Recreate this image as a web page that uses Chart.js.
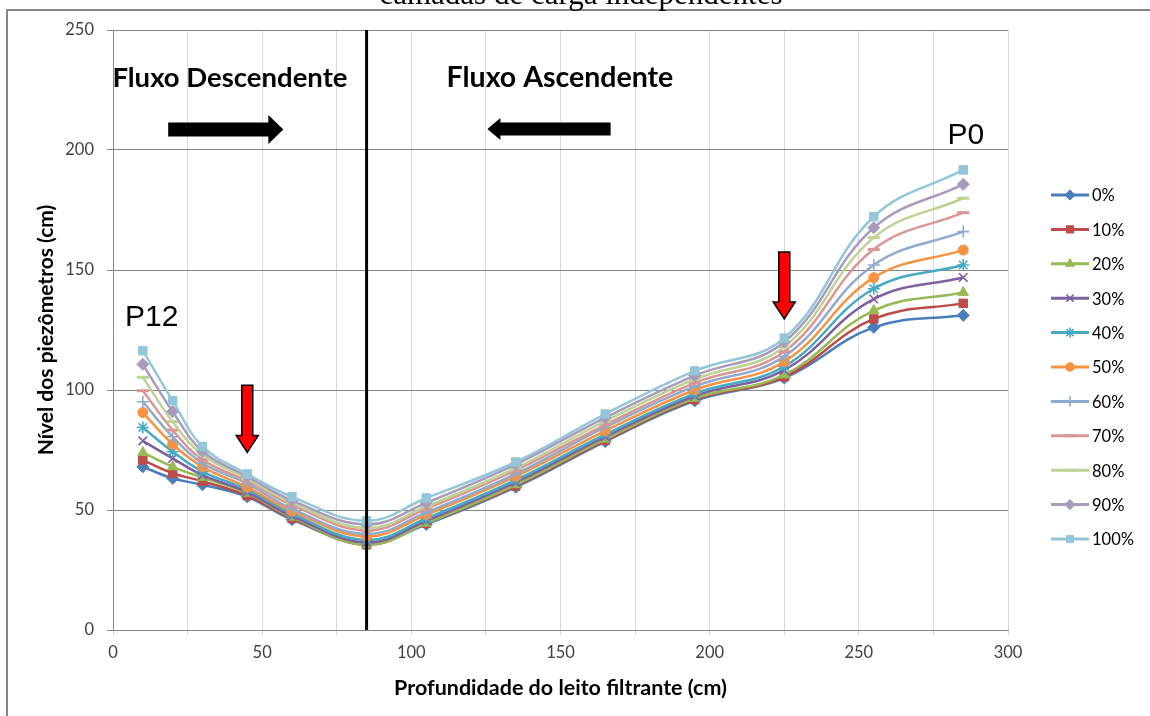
<!DOCTYPE html>
<html>
<head>
<meta charset="utf-8">
<script src="https://cdn.jsdelivr.net/npm/chart.js@4.4.1/dist/chart.umd.min.js"></script>
<style>
  html, body { margin: 0; padding: 0; background: #fff; overflow: hidden; }
  #grafico { display: block; }
</style>
</head>
<body>
<canvas id="grafico" width="1150" height="716"></canvas>
<script>
// profundidade do leito (cm) de cada piezometro, P12 ... P0
var PROFUNDIDADE = [10, 20, 30, 45, 60, 85, 105, 135, 165, 195, 225, 255, 285];
var SERIES = ["0%", "10%", "20%", "30%", "40%", "50%", "60%", "70%", "80%", "90%", "100%"];

// nivel dos piezometros (cm) para cada serie
var NIVEL_0   = [68.0, 63.2, 60.5, 55.5, 46.0, 36.0, 44.0, 59.5, 78.5, 95.5, 105.0, 126.1, 131.1];
var NIVEL_10  = [70.8, 65.3, 62.0, 56.0, 46.5, 35.5, 44.5, 60.0, 79.0, 96.0, 105.5, 129.6, 136.1];
var NIVEL_20  = [73.9, 68.0, 63.5, 57.0, 47.0, 35.5, 44.5, 60.5, 79.5, 96.5, 106.3, 133.1, 140.6];
var NIVEL_30  = [78.8, 71.5, 64.5, 57.5, 47.5, 36.5, 45.5, 61.5, 80.5, 97.5, 108.3, 137.9, 146.9];
var NIVEL_40  = [84.4, 74.3, 66.0, 58.5, 48.5, 37.5, 46.5, 62.5, 81.5, 98.5, 109.8, 142.2, 152.1];
var NIVEL_50  = [90.6, 77.4, 68.0, 59.5, 49.5, 39.0, 48.0, 64.0, 83.0, 100.0, 111.8, 146.8, 158.3];
var NIVEL_60  = [95.1, 80.5, 69.5, 61.0, 50.5, 40.0, 49.0, 65.0, 84.5, 101.5, 114.0, 152.1, 166.0];
var NIVEL_70  = [99.7, 83.3, 71.0, 62.0, 52.0, 41.5, 50.5, 66.5, 85.5, 103.0, 116.0, 158.6, 173.9];
var NIVEL_80  = [105.3, 86.8, 73.0, 63.0, 53.0, 42.5, 51.5, 67.5, 87.0, 104.5, 118.0, 163.5, 179.9];
var NIVEL_90  = [110.7, 91.0, 74.5, 64.0, 54.0, 44.0, 53.0, 69.0, 88.5, 106.0, 120.0, 167.6, 185.7];
var NIVEL_100 = [116.4, 95.6, 76.5, 65.0, 55.5, 45.5, 55.0, 70.0, 90.0, 108.0, 121.6, 172.2, 191.7];

var NIVEIS = [NIVEL_0, NIVEL_10, NIVEL_20, NIVEL_30, NIVEL_40, NIVEL_50, NIVEL_60, NIVEL_70, NIVEL_80, NIVEL_90, NIVEL_100];

var CORES = ["#4A7EBB", "#BE4B48", "#98B954", "#7D60A0", "#46AAC5", "#F69240",
             "#8FAACF", "#D99694", "#BDD394", "#A99BBD", "#93C6D8"];
var MARCADORES = ["rectRot", "rect", "triangle", "crossRot", "star", "circle", "cross", "line", "line", "rectRot", "rect"];

var LIMITE_FLUXO = 85;
var FONTE = "Lato, 'Open Sans', sans-serif";

var datasets = SERIES.map(function (nome, i) {
    var cor = CORES[i];
    var tracado = ["crossRot", "star", "cross", "line"].indexOf(MARCADORES[i]) >= 0;
    return {
        label: nome,
        data: PROFUNDIDADE.map(function (p, k) { return { x: p, y: NIVEIS[i][k] }; }),
        borderColor: cor,
        backgroundColor: cor,
        borderWidth: 2.5,
        tension: 0.4,
        pointStyle: MARCADORES[i],
        pointRadius: MARCADORES[i] == "circle" ? 5 : 6,
        pointBackgroundColor: cor,
        pointBorderColor: cor,
        pointBorderWidth: MARCADORES[i] == "line" ? 3 : (tracado ? 1.6 : 1),
        order: SERIES.length - i
    };
});

function setaHorizontal(ctx, x0, x1, yc, meioCorpo, meioPonta, ponta) {
    var dir = x1 > x0 ? 1 : -1;
    var base = x1 - dir * ponta;
    ctx.beginPath();
    ctx.moveTo(x0, yc - meioCorpo);
    ctx.lineTo(base, yc - meioCorpo);
    ctx.lineTo(base, yc - meioPonta);
    ctx.lineTo(x1, yc);
    ctx.lineTo(base, yc + meioPonta);
    ctx.lineTo(base, yc + meioCorpo);
    ctx.lineTo(x0, yc + meioCorpo);
    ctx.closePath();
    ctx.fill();
}

function setaVertical(ctx, xc, y0, y1) {
    var base = y1 - 17;
    ctx.beginPath();
    ctx.moveTo(xc - 5.5, y0);
    ctx.lineTo(xc + 5.5, y0);
    ctx.lineTo(xc + 5.5, base);
    ctx.lineTo(xc + 11, base);
    ctx.lineTo(xc, y1);
    ctx.lineTo(xc - 11, base);
    ctx.lineTo(xc - 5.5, base);
    ctx.closePath();
    ctx.fillStyle = "#FF0000";
    ctx.fill();
    ctx.lineWidth = 1.5;
    ctx.strokeStyle = "#000";
    ctx.stroke();
}

var moldura = {
    id: "moldura",
    beforeDraw: function (chart) {
        var ctx = chart.ctx;
        ctx.save();
        ctx.fillStyle = "#fff";
        ctx.fillRect(0, 0, chart.width, chart.height);
        ctx.strokeStyle = "#868686";
        ctx.lineWidth = 2;
        ctx.beginPath();
        ctx.moveTo(7, chart.height + 5);
        ctx.lineTo(7, 10);
        ctx.lineTo(chart.width + 5, 10);
        ctx.stroke();
        // titulo cortado no topo da figura
        ctx.fillStyle = "#000";
        ctx.font = "31px 'Liberation Serif', serif";
        ctx.textAlign = "center";
        ctx.textBaseline = "alphabetic";
        ctx.fillText("camadas de carga independentes", 581, 3.5);
        ctx.restore();
    }
};

var anotacoes = {
    id: "anotacoes",
    afterDatasetsDraw: function (chart) {
        var ctx = chart.ctx;
        var x = chart.scales.x, y = chart.scales.y;
        ctx.save();
        // limite entre fluxo descendente e ascendente
        ctx.strokeStyle = "#000";
        ctx.lineWidth = 3;
        ctx.beginPath();
        ctx.moveTo(x.getPixelForValue(LIMITE_FLUXO), y.getPixelForValue(250));
        ctx.lineTo(x.getPixelForValue(LIMITE_FLUXO), y.getPixelForValue(0));
        ctx.stroke();

        ctx.fillStyle = "#000";
        setaHorizontal(ctx, x.getPixelForValue(18.5), x.getPixelForValue(57.1), y.getPixelForValue(208.5), 7, 14.5, 15);
        setaHorizontal(ctx, x.getPixelForValue(166.8), x.getPixelForValue(125.5), y.getPixelForValue(208.8), 6.5, 11, 13);

        setaVertical(ctx, x.getPixelForValue(45), y.getPixelForValue(102), y.getPixelForValue(74));
        setaVertical(ctx, x.getPixelForValue(225), y.getPixelForValue(157.5), y.getPixelForValue(129.6));

        ctx.fillStyle = "#000";
        ctx.textBaseline = "alphabetic";
        ctx.textAlign = "center";
        ctx.font = "bold 27.5px " + FONTE;
        ctx.fillText("Fluxo Descendente", x.getPixelForValue(39.2), y.getPixelForValue(226.3));
        ctx.font = "bold 28.5px " + FONTE;
        ctx.fillText("Fluxo Ascendente", x.getPixelForValue(149.8), y.getPixelForValue(226.3));

        ctx.textAlign = "left";
        ctx.font = "30px 'Liberation Sans', Arial, sans-serif";
        ctx.fillText("P12", x.getPixelForValue(4), y.getPixelForValue(126.7));
        ctx.fillText("P0", x.getPixelForValue(279.7), y.getPixelForValue(202.5));
        ctx.restore();
    }
};

var legendaExcel = {
    id: "legendaExcel",
    afterDraw: function (chart) {
        var ctx = chart.ctx;
        chart.data.datasets.forEach(function (ds, i) {
            var yy = 195 + i * 34.4;
            ctx.save();
            ctx.strokeStyle = ds.borderColor;
            ctx.lineWidth = 3;
            ctx.beginPath();
            ctx.moveTo(1051, yy);
            ctx.lineTo(1089, yy);
            ctx.stroke();
            ctx.fillStyle = ds.pointBackgroundColor;
            ctx.strokeStyle = ds.pointBorderColor;
            ctx.lineWidth = ds.pointBorderWidth;
            Chart.helpers.drawPoint(ctx, {
                pointStyle: ds.pointStyle,
                radius: ds.pointRadius * 0.85,
                rotation: 0,
                borderWidth: ds.pointBorderWidth
            }, 1070, yy);
            ctx.fillStyle = "#000";
            ctx.font = "16.5px " + FONTE;
            ctx.textAlign = "left";
            ctx.textBaseline = "middle";
            ctx.fillText(ds.label, 1092, yy + 1);
            ctx.restore();
        });
    }
};

var ctx = document.getElementById("grafico").getContext("2d");
var grafico = new Chart(ctx, {
    type: "line",
    data: { datasets: datasets },
    plugins: [moldura, anotacoes, legendaExcel],
    options: {
        responsive: false,
        animation: false,
        devicePixelRatio: 1,
        layout: { padding: { left: 0, top: 30, right: 142, bottom: 0 } },
        plugins: {
            legend: { display: false },
            tooltip: { enabled: false },
            title: { display: false }
        },
        scales: {
            x: {
                type: "linear",
                min: 0,
                max: 300,
                afterFit: function (s) { s.height = 86; },
                ticks: {
                    stepSize: 25,
                    autoSkip: false,
                    maxRotation: 0,
                    padding: 8,
                    color: "#404040",
                    font: { family: FONTE, size: 16.5 },
                    callback: function (v) { return v % 50 === 0 ? v : ""; }
                },
                grid: { color: "#d9d9d9", lineWidth: 1, tickLength: 5 },
                border: { color: "#868686", width: 1 },
                title: {
                    display: true,
                    text: "Profundidade do leito filtrante (cm)",
                    color: "#000",
                    font: { family: FONTE, size: 21.5, weight: "bold" },
                    padding: { top: 0, bottom: 15 }
                }
            },
            y: {
                min: 0,
                max: 250,
                afterFit: function (s) { s.width = 113; },
                ticks: {
                    stepSize: 50,
                    padding: 13,
                    color: "#404040",
                    font: { family: FONTE, size: 16.5 }
                },
                grid: { color: "#868686", lineWidth: 1, tickLength: 6 },
                border: { color: "#868686", width: 1 },
                title: {
                    display: true,
                    text: "Nível dos piezômetros (cm)",
                    color: "#000",
                    font: { family: FONTE, size: 21, weight: "bold" },
                    padding: { top: 34, bottom: 0 }
                }
            }
        }
    }
});
</script>
</body>
</html>
